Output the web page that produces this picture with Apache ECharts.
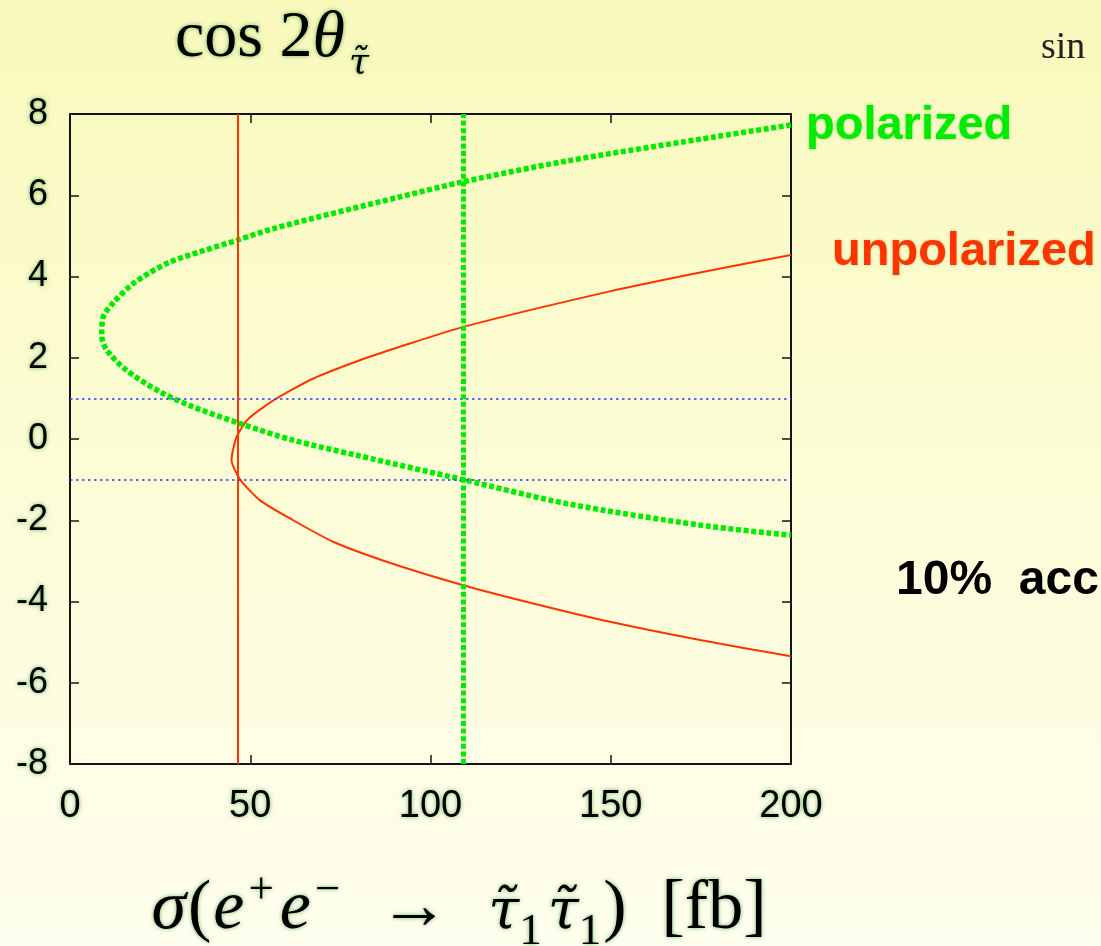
<!DOCTYPE html>
<html>
<head>
<meta charset="utf-8">
<script src="https://cdn.jsdelivr.net/npm/echarts@6/dist/echarts.min.js"></script>
<style>
html,body{margin:0;padding:0;width:1101px;height:946px;overflow:hidden;}
#chart{width:1101px;height:946px;}
</style>
</head>
<body>
<div id="chart"></div>
<script>
// ---- data ----
const xTicks = [0, 50, 100, 150, 200];
const yTicks = [-8, -6, -4, -2, 0, 2, 4, 6, 8];

// polarized curve (green dotted), ordered along the curve
const polX = [200, 174.8, 137, 109, 91.5, 56.4, 46.6, 36.1, 26.8, 17.6, 12, 9.2, 8.8, 10.2, 15.7, 25.0, 34.2, 47.2, 61.9, 79.5, 109, 137.8, 174.8, 200];
const polY = [7.73, 7.38, 6.83, 6.33, 5.96, 5.18, 4.90, 4.61, 4.32, 3.83, 3.35, 3.0, 2.55, 2.19, 1.69, 1.16, 0.79, 0.38, -0.03, -0.40, -1.0, -1.59, -2.12, -2.37];

// unpolarized curve (red solid), ordered along the curve
const unpX = [200, 174.8, 150, 109.1, 91.5, 80.4, 67.5, 57.3, 49.5, 46.2, 44.8, 47.2, 52.7, 61.9, 73.0, 87.8, 109.1, 128.5, 149.8, 174.8, 200];
const unpY = [4.53, 4.10, 3.64, 2.76, 2.27, 1.94, 1.49, 1.0, 0.50, 0.05, -0.52, -1.0, -1.51, -2.0, -2.53, -3.02, -3.60, -4.05, -4.50, -4.95, -5.35];

// measured cross sections (vertical lines)
const unpSigma = 46.6;
const polSigma = 109;
// 10% accuracy band in cos 2theta (horizontal lines)
const bandLines = [1, -1];

const labels = { pol: 'polarized', unp: 'unpolarized', acc: '10%  acc', sin: 'sin' };

// ---- build ----
const GREEN = '#00ec00';
const RED = '#ff3300';
const SH = 'rgba(20,140,20,0.6)';
const glow = { textShadowColor: SH, textShadowBlur: 4 };

const polData = polX.map((x, i) => [x, polY[i]]);
const unpData = unpX.map((x, i) => [x, unpY[i]]);

const axisLineStyle = { color: '#151515', width: 2 };
const tickStyle = { color: '#151515', width: 1.5 };

function axisX(pos, showLabel) {
  return {
    type: 'value', min: xTicks[0], max: xTicks[xTicks.length - 1], interval: 50, position: pos,
    axisLine: { show: true, onZero: false, lineStyle: axisLineStyle },
    axisTick: { show: true, inside: true, length: 9, lineStyle: tickStyle },
    splitLine: { show: false },
    axisLabel: showLabel ? {
      margin: 24, color: '#000', fontSize: 38,
      fontFamily: "'Liberation Sans', Arial, sans-serif", ...glow
    } : { show: false }
  };
}
function axisY(pos, showLabel) {
  return {
    type: 'value', min: yTicks[0], max: yTicks[yTicks.length - 1], interval: 2, position: pos,
    axisLine: { show: true, onZero: false, lineStyle: axisLineStyle },
    axisTick: { show: true, inside: true, length: 9, lineStyle: tickStyle },
    splitLine: { show: false },
    axisLabel: showLabel ? {
      margin: 22, color: '#000', fontSize: 36,
      fontFamily: "'Liberation Sans', Arial, sans-serif", ...glow
    } : { show: false }
  };
}

const serif = "'Liberation Serif', serif";
const tauFont = "'DejaVu Serif', serif";

const chart = echarts.init(document.getElementById('chart'), null, { renderer: 'canvas' });
chart.setOption({
  animation: false,
  backgroundColor: {
    type: 'linear', x: 0, y: 0, x2: 0, y2: 1,
    colorStops: [
      { offset: 0, color: '#f9f9bc' },
      { offset: 0.5, color: '#fcfcd6' },
      { offset: 1, color: '#fefeee' }
    ]
  },
  grid: { left: 70, right: 310, top: 114, bottom: 182, containLabel: false },
  xAxis: [axisX('bottom', true), axisX('top', false)],
  yAxis: [axisY('left', true), axisY('right', false)],
  series: [
    {
      name: 'band', type: 'line', data: [], silent: true,
      markLine: {
        silent: true, symbol: ['none', 'none'], label: { show: false },
        lineStyle: { color: '#2a3cff', width: 1.6, type: [2.5, 3.5] },
        data: bandLines.map(v => ({ yAxis: v }))
      }
    },
    {
      name: labels.unp, type: 'line', data: unpData, showSymbol: false, symbol: 'none', smooth: 0.2,
      lineStyle: { color: RED, width: 2 }, z: 3,
      markLine: {
        silent: true, symbol: ['none', 'none'], label: { show: false },
        lineStyle: { color: RED, width: 2, type: 'solid' },
        data: [{ xAxis: unpSigma }]
      }
    },
    {
      name: labels.pol, type: 'line', data: polData, showSymbol: false, symbol: 'none', smooth: 0.3,
      lineStyle: { color: GREEN, width: 5.5, type: [5, 2.6], cap: 'butt' }, z: 4,
      markLine: {
        silent: true, symbol: ['none', 'none'], label: { show: false },
        lineStyle: { color: GREEN, width: 5, type: [5, 2.6], cap: 'butt' },
        data: [{ xAxis: polSigma }]
      }
    }
  ],
  graphic: [
    {
      type: 'text', x: 806, y: 126,
      style: { text: labels.pol, fill: GREEN, font: "bold 47px 'Liberation Sans', Arial, sans-serif", verticalAlign: 'middle', textShadowColor: 'rgba(20,140,20,0.35)', textShadowBlur: 3 }
    },
    {
      type: 'text', x: 832, y: 252,
      style: { text: labels.unp, fill: RED, font: "bold 47px 'Liberation Sans', Arial, sans-serif", verticalAlign: 'middle', textShadowColor: 'rgba(20,140,20,0.35)', textShadowBlur: 3 }
    },
    {
      type: 'text', x: 896, y: 581,
      style: { text: labels.acc, fill: '#000', font: "bold 48px 'Liberation Sans', Arial, sans-serif", verticalAlign: 'middle' }
    },
    {
      type: 'text', x: 1041, y: 48,
      style: { text: labels.sin, fill: '#222', font: "38px 'Liberation Serif', serif", verticalAlign: 'middle' }
    },
    {
      type: 'text', x: 175, y: 36,
      style: {
        text: '{n|cos 2}{i|θ}{s|τ̃}',
        verticalAlign: 'middle', fill: '#000', ...glow,
        rich: {
          n: { fontFamily: serif, fontSize: 66, fill: '#000', lineHeight: 72, verticalAlign: 'bottom', ...glow },
          i: { fontFamily: serif, fontStyle: 'italic', fontSize: 66, fill: '#000', lineHeight: 72, verticalAlign: 'bottom', ...glow },
          s: { fontFamily: tauFont, fontStyle: 'italic', fontSize: 36, fill: '#000', lineHeight: 40, verticalAlign: 'bottom', padding: [0, 0, -10, 4], ...glow }
        }
      }
    },
    {
      type: 'text', x: 458, y: 906,
      style: {
        text: '{i|σ}{n|(}{i|e}{p|+}{i|e}{p|−}{n|  →  }{t|τ̃}{b|1}{t|τ̃}{b|1}{n|)  [fb]}',
        align: 'center', verticalAlign: 'middle', fill: '#000',
        rich: {
          n: { fontFamily: serif, fontSize: 70, fill: '#000', lineHeight: 78, verticalAlign: 'bottom', ...glow },
          i: { fontFamily: serif, fontStyle: 'italic', fontSize: 70, fill: '#000', lineHeight: 78, verticalAlign: 'bottom', padding: [0, 2, 0, 2], ...glow },
          t: { fontFamily: tauFont, fontStyle: 'italic', fontSize: 56, fill: '#000', lineHeight: 78, verticalAlign: 'bottom', padding: [0, 0, 4, 4], ...glow },
          p: { fontFamily: serif, fontSize: 45, fill: '#000', lineHeight: 45, verticalAlign: 'top', padding: [2, 4, 0, 2], ...glow },
          b: { fontFamily: serif, fontSize: 45, fill: '#000', lineHeight: 45, verticalAlign: 'bottom', padding: [0, 2, -10, 0], ...glow }
        }
      }
    }
  ]
});
</script>
</body>
</html>
